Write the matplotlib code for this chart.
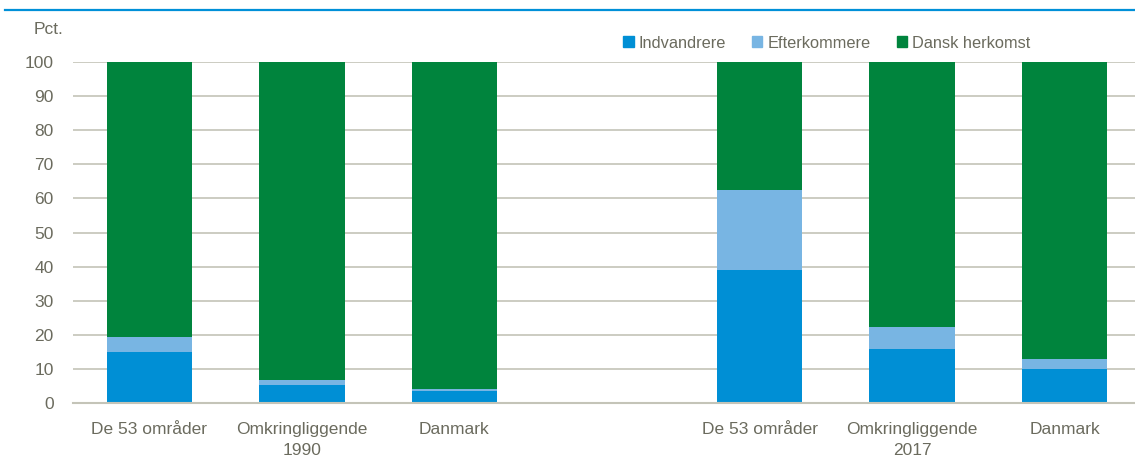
import matplotlib.pyplot as plt
from matplotlib.patches import Patch
from matplotlib.lines import Line2D
import numpy as np

plt.rcParams['font.family'] = ['Liberation Sans', 'DejaVu Sans']

categories = ["De 53 områder", "Omkringliggende\n1990", "Danmark", "",
              "De 53 områder", "Omkringliggende\n2017", "Danmark"]
indvandrere = [15.0, 5.4, 3.5, 0, 39.1, 15.8, 10.0]
efterkommere = [4.3, 1.3, 0.6, 0, 23.3, 6.5, 2.9]
dansk = [80.7, 93.3, 95.9, 0, 37.6, 77.7, 87.1]
series_names = ["Indvandrere", "Efterkommere", "Dansk herkomst"]

c_ind = "#008fd5"
c_eft = "#78b5e3"
c_dan = "#00843d"
txt = "#6b6b5e"
grid = "#c4c4b8"

W, H = 1135, 465
fig = plt.figure(figsize=(W / 100, H / 100), dpi=100)
ax = fig.add_axes([73 / W, 62 / H, (1141 - 73) / W, 341 / H])

x = np.arange(len(categories))
ind = np.array(indvandrere)
eft = np.array(efterkommere)
dan = np.array(dansk)
mask = np.array([c != "" for c in categories])
w = 0.56
ax.bar(x[mask], ind[mask], w, color=c_ind, zorder=3)
ax.bar(x[mask], eft[mask], w, bottom=ind[mask], color=c_eft, zorder=3)
ax.bar(x[mask], dan[mask], w, bottom=(ind + eft)[mask], color=c_dan, zorder=3)

ax.set_xlim(-0.5, len(categories) - 0.5)
ax.set_ylim(0, 100)
ax.set_yticks(range(0, 101, 10))
ax.set_xticks(x)
ax.set_xticklabels(categories, fontsize=12.5, color=txt, linespacing=1.45)
ax.tick_params(axis='y', labelsize=12.5, labelcolor=txt, length=0, pad=14)
ax.tick_params(axis='x', length=0, pad=14)
ax.grid(axis='y', color=grid, lw=1.2, zorder=0)
for s in ['left', 'right', 'top']:
    ax.spines[s].set_visible(False)
ax.spines['bottom'].set_color(grid)
ax.spines['bottom'].set_linewidth(1.5)
ax.spines['bottom'].set_zorder(4)

fig.text(34 / W, 1 - 29 / H, "Pct.", fontsize=12.5, color=txt, va='center', ha='left')

fig.add_artist(Line2D([5 / W, 1], [1 - 10 / H, 1 - 10 / H], color="#0090d8", lw=1.6))

handles = [Patch(color=c) for c in (c_ind, c_eft, c_dan)]
leg = fig.legend(handles, series_names, loc='center left',
                 bbox_to_anchor=(612 / W, 1 - 43 / H), ncol=3, frameon=False,
                 handlelength=0.62, handleheight=0.62, handletextpad=0.3,
                 columnspacing=1.6, fontsize=11.8, borderpad=0.2)
for t in leg.get_texts():
    t.set_color(txt)

fig.savefig("out.png", dpi=100)
